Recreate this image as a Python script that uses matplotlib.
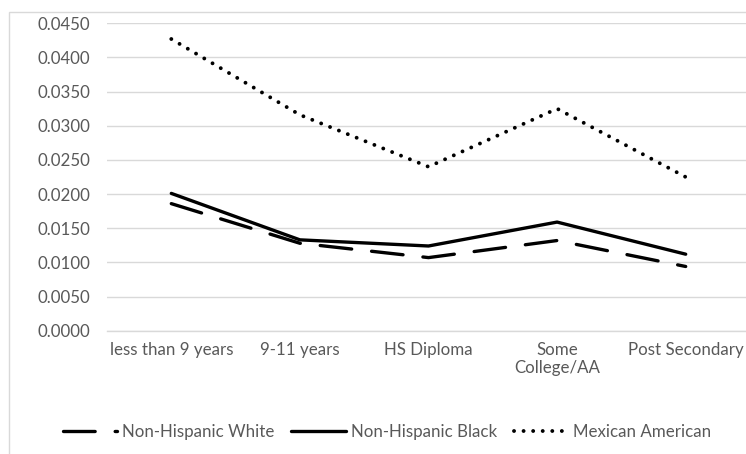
import matplotlib
matplotlib.use("Agg")
import matplotlib.pyplot as plt
from matplotlib.patches import Rectangle

# Data
categories = ["less than 9 years", "9-11 years", "HS Diploma", "Some\nCollege/AA", "Post Secondary"]
nh_white = [0.0186, 0.0128, 0.0107, 0.0132, 0.0094]
nh_black = [0.0201, 0.0133, 0.0124, 0.0159, 0.0112]
mexican_american = [0.0427, 0.0316, 0.0240, 0.0325, 0.0225]
y_ticks = [0.0, 0.005, 0.010, 0.015, 0.020, 0.025, 0.030, 0.035, 0.040, 0.045]

plt.rcParams['font.family'] = ['Lato', 'DejaVu Sans']
text_color = '#595959'
grid_color = '#d9d9d9'
fs = 12.2

fig = plt.figure(figsize=(7.46, 4.54), dpi=100)

# Excel-like chart frame (cropped on right and bottom)
fig.patches.append(Rectangle((9 / 746, -0.2), 1.2, 0.2 + (1 - 12 / 454),
                             transform=fig.transFigure, fill=False,
                             edgecolor=grid_color, linewidth=1.0))

ax = fig.add_axes([107 / 746, 1 - 330.7 / 454, 643 / 746, (330.7 - 23.3) / 454])

x = list(range(len(categories)))
lw = 2.4
ax.plot(x, nh_white, color='black', linewidth=lw, dashes=(9.5, 6),
        dash_capstyle='round', solid_capstyle='round', label='Non-Hispanic White')
ax.plot(x, nh_black, color='black', linewidth=lw, solid_capstyle='round',
        label='Non-Hispanic Black')
ax.plot(x, mexican_american, color='black', linewidth=2.8, dashes=(0.01, 2.45),
        dash_capstyle='round', label='Mexican American')

ax.set_xlim(-0.5, len(categories) - 0.5)
ax.set_ylim(0, 0.045)
ax.set_yticks(y_ticks)
ax.set_yticklabels([f"{v:.4f}" for v in y_ticks])
ax.set_xticks(x)
ax.set_xticklabels(categories)

ax.grid(axis='y', color=grid_color, linewidth=1.0)
ax.set_axisbelow(True)
for side in ['top', 'right', 'left']:
    ax.spines[side].set_visible(False)
ax.spines['bottom'].set_color(grid_color)
ax.spines['bottom'].set_linewidth(1.0)

ax.tick_params(axis='y', length=0, pad=12, labelsize=fs, labelcolor=text_color)
ax.tick_params(axis='x', length=0, pad=8, labelsize=fs, labelcolor=text_color)

fig.legend(loc='center', bbox_to_anchor=(387 / 746, 1 - 432 / 454), ncol=3,
           frameon=False, fontsize=fs, labelcolor=text_color,
           handlelength=3.2, handletextpad=0.3, columnspacing=1.0)

fig.savefig("out.png", dpi=100)
